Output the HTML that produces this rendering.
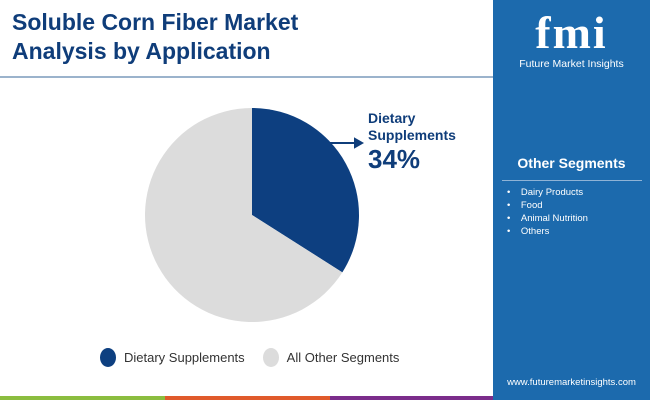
<!DOCTYPE html>
<html><head><meta charset="utf-8"><style>
body{margin:0;width:650px;height:400px;position:relative;overflow:hidden;background:#fff;font-family:"Liberation Sans",sans-serif}
.abs{position:absolute}
</style></head><body>
<div class="abs" style="left:12px;top:8px;font-size:23px;font-weight:bold;color:#0f3d7a;line-height:29px">Soluble Corn Fiber Market<br>Analysis by Application</div>
<div class="abs" style="left:0;top:76px;width:493px;height:2px;background:#9bb3cc"></div>
<div class="abs" style="left:493px;top:0;width:157px;height:400px;background:#1c6aad"></div>
<div class="abs" style="left:493px;top:8px;width:157px;text-align:center;color:#fff">
 <div style="font-size:46px;font-weight:bold;font-family:'Liberation Serif',serif;line-height:50px;letter-spacing:2px">fmi</div>
 <div style="font-size:10.5px">Future Market Insights</div>
</div>
<div class="abs" style="left:493px;top:155px;width:157px;text-align:center;color:#fff;font-weight:bold;font-size:14px">Other Segments</div>
<div class="abs" style="left:502px;top:180px;width:140px;height:1px;background:#8fb3d6"></div>
<div class="abs" style="left:507px;top:186px;color:#fff;font-size:9.5px;line-height:13px">
 <div>•&nbsp;&nbsp;&nbsp;&nbsp;Dairy Products</div>
 <div>•&nbsp;&nbsp;&nbsp;&nbsp;Food</div>
 <div>•&nbsp;&nbsp;&nbsp;&nbsp;Animal Nutrition</div>
 <div>•&nbsp;&nbsp;&nbsp;&nbsp;Others</div>
</div>
<div class="abs" style="left:493px;top:377px;width:157px;text-align:center;color:#fff;font-size:9.5px">www.futuremarketinsights.com</div>
<div class="abs" style="left:0;top:396px;width:165px;height:4px;background:#8bbd3f"></div>
<div class="abs" style="left:165px;top:396px;width:165px;height:4px;background:#e05a2b"></div>
<div class="abs" style="left:330px;top:396px;width:163px;height:4px;background:#7b2d8b"></div>
<svg class="abs" style="left:0;top:0" width="493" height="396" id="pie"></svg>
<div class="abs" style="left:368px;top:110px;color:#0f3d7a;font-weight:bold;font-size:14px;line-height:17px">Dietary<br>Supplements<div style="font-size:26px;line-height:30px">34%</div></div>
<div class="abs" style="left:100px;top:348px;font-size:13px;color:#333;display:flex;align-items:center">
 <span style="width:16px;height:19px;border-radius:50%;background:#0d3f80;display:inline-block;margin-right:8px"></span><span>Dietary Supplements</span>
 <span style="width:16px;height:19px;border-radius:50%;background:#dcdcdc;display:inline-block;margin:0 8px 0 18px"></span><span>All Other Segments</span>
</div>
<script>
const categories=["Dietary Supplements","All Other Segments"];
const values=[34,66];
const colors=["#0d3f80","#dcdcdc"];
const svg=document.getElementById('pie');
const NS="http://www.w3.org/2000/svg";
const cx=252,cy=215,r=107;
const total=values.reduce((a,b)=>a+b,0);
let a0=0;
function pt(a){return [cx+r*Math.sin(a),cy-r*Math.cos(a)];}
values.forEach((v,i)=>{
 const a1=a0+v/total*2*Math.PI;
 const p0=pt(a0),p1=pt(a1);
 const p=document.createElementNS(NS,'path');
 p.setAttribute('d',`M${cx},${cy}L${p0[0]},${p0[1]}A${r},${r} 0 ${a1-a0>Math.PI?1:0} 1 ${p1[0]},${p1[1]}Z`);
 p.setAttribute('fill',colors[i]);
 
 
 svg.appendChild(p);
 a0=a1;
});
const ln=document.createElementNS(NS,'path');
ln.setAttribute('d','M330,143L360,143M355,139L362,143L355,147Z');
ln.setAttribute('stroke','#0f3d7a');ln.setAttribute('stroke-width','2');ln.setAttribute('fill','#0f3d7a');


svg.appendChild(ln);
</script>
</body></html>
